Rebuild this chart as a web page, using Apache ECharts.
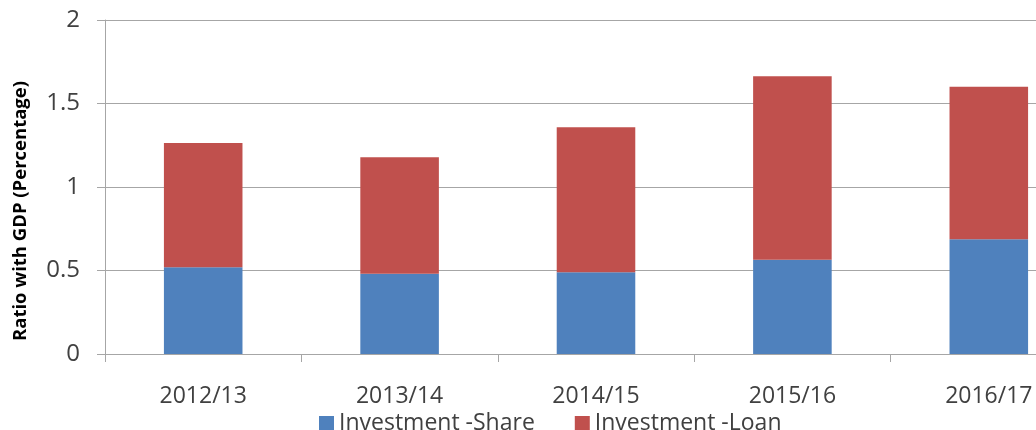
<!DOCTYPE html>
<html>
<head>
<meta charset="utf-8">
<script src="https://cdn.jsdelivr.net/npm/echarts@6/dist/echarts.min.js"></script>
<style>
  html, body { margin: 0; padding: 0; background: #fff; }
  #chart { width: 1036px; height: 430px; }
</style>
</head>
<body>
<div id="chart"></div>
<script>
// categories and values
var years = ['2012/13', '2013/14', '2014/15', '2015/16', '2016/17']
var shareVals = [0.52, 0.48, 0.49, 0.565, 0.687]
var loanVals = [0.743, 0.698, 0.868, 1.098, 0.913]
var yTicks = { min: 0, max: 2, step: 0.5 }

var chart = echarts.init(document.getElementById('chart'))
var gridColor = '#a6a6a6'
var textColor = '#404040'

chart.setOption({
  animation: false,
  backgroundColor: '#fff',
  grid: {
    left: 105,
    right: -51,
    top: 20,
    bottom: 76,
    outerBoundsMode: 'none'
  },
  legend: {
    data: ['Investment -Share', 'Investment -Loan'],
    left: 314,
    top: 407,
    itemWidth: 15,
    itemHeight: 15,
    itemGap: 40,
    icon: 'rect',
    textStyle: {
      fontFamily: 'Open Sans',
      fontSize: 23,
      color: textColor
    }
  },
  xAxis: {
    type: 'category',
    data: years,
    axisLine: { show: true, lineStyle: { color: gridColor, width: 1 } },
    axisTick: { show: true, length: 8, lineStyle: { color: gridColor } },
    axisLabel: {
      margin: 31,
      fontFamily: 'Open Sans',
      fontSize: 23,
      color: textColor
    }
  },
  yAxis: {
    type: 'value',
    min: yTicks.min,
    max: yTicks.max,
    interval: yTicks.step,
    axisLine: { show: true, lineStyle: { color: gridColor, width: 1 } },
    axisTick: { show: true, length: 8, lineStyle: { color: gridColor } },
    splitLine: { show: true, lineStyle: { color: gridColor, width: 1 } },
    axisLabel: {
      margin: 25,
      fontFamily: 'Open Sans',
      fontSize: 24,
      color: textColor
    }
  },
  graphic: [{
    type: 'text',
    x: 21,
    y: 211,
    rotation: Math.PI / 2,
    style: {
      text: 'Ratio with GDP (Percentage)',
      fontFamily: 'Open Sans',
      fontWeight: 'bold',
      fontSize: 18.5,
      fill: '#000',
      textAlign: 'center',
      textVerticalAlign: 'middle'
    }
  }],
  series: [
    {
      name: 'Investment -Share',
      type: 'bar',
      stack: 'inv',
      barWidth: '40%',
      itemStyle: { color: '#4f81bd' },
      data: shareVals
    },
    {
      name: 'Investment -Loan',
      type: 'bar',
      stack: 'inv',
      barWidth: '40%',
      itemStyle: { color: '#c0504d' },
      data: loanVals
    }
  ]
})
</script>
</body>
</html>
